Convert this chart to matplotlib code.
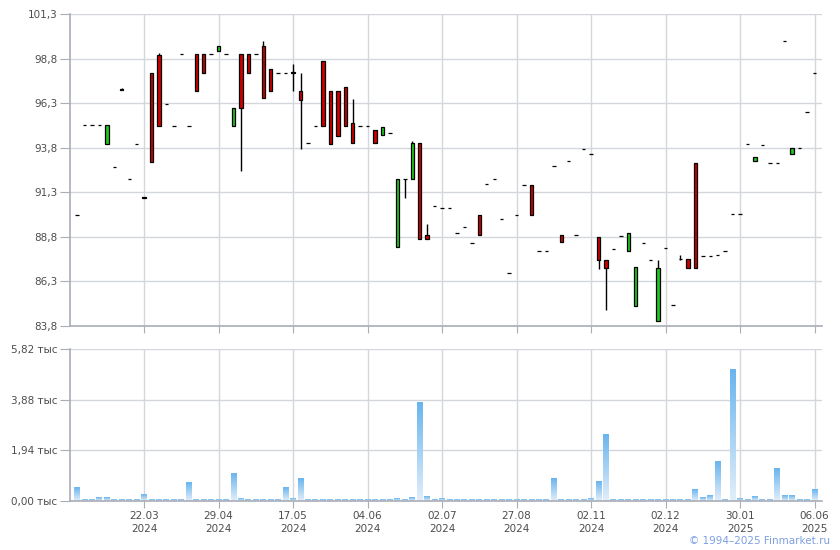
import matplotlib

matplotlib.use("Agg")

import matplotlib.pyplot as plt
import numpy as np
from matplotlib.colors import LinearSegmentedColormap
from matplotlib.patches import Rectangle

# свечи по порядку торговых дней (100 штук)
opens = [
    90.0, 95.1, 95.1, 95.1, 94.0, 92.7, 97.1, 92.05, 94.0, 91.05,
    98.0, 99.0, 96.25, 95.0, 99.05, 95.0, 99.05, 99.05, 99.05, 99.2,
    99.05, 95.0, 99.05, 99.05, 99.05, 99.5, 98.2, 98.0, 98.0, 98.05,
    97.0, 94.05, 95.0, 98.65, 97.0, 97.0, 97.2, 95.2, 95.0, 95.0,
    94.8, 94.5, 94.6, 88.25, 92.05, 92.05, 94.05, 88.9, 90.55, 90.4,
    90.4, 89.0, 89.35, 88.45, 90.0, 91.75, 92.05, 89.8, 86.8, 90.0,
    91.7, 91.7, 88.0, 88.0, 92.8, 88.9, 93.05, 88.9, 93.75, 93.45,
    88.8, 87.5, 88.1, 88.85, 88.0, 84.9, 88.45, 87.5, 84.1, 88.2,
    85.0, 87.55, 87.55, 92.95, 87.7, 87.7, 87.8, 88.0, 90.1, 90.1,
    94.0, 93.05, 93.95, 92.95, 92.95, 99.8, 93.45, 93.8, 95.8, 98.0,
]
closes = [
    90.0, 95.1, 95.1, 95.1, 95.1, 92.7, 97.05, 92.05, 94.0, 91.0,
    93.0, 95.0, 96.25, 95.0, 99.05, 95.0, 97.0, 98.0, 99.05, 99.5,
    99.05, 96.0, 96.0, 98.0, 99.05, 96.6, 97.0, 98.0, 98.0, 98.0,
    96.45, 94.05, 95.0, 95.0, 94.0, 94.45, 95.0, 94.05, 95.0, 95.0,
    94.05, 94.95, 94.6, 92.05, 92.05, 94.05, 88.7, 88.7, 90.55, 90.4,
    90.4, 89.0, 89.35, 88.45, 88.9, 91.75, 92.05, 89.8, 86.8, 90.0,
    91.7, 90.05, 88.0, 88.0, 92.8, 88.5, 93.05, 88.9, 93.75, 93.45,
    87.5, 87.05, 88.1, 88.85, 89.0, 87.1, 88.45, 87.5, 87.05, 88.2,
    85.0, 87.55, 87.05, 87.05, 87.7, 87.7, 87.8, 88.0, 90.1, 90.1,
    94.0, 93.3, 93.95, 92.95, 92.95, 99.8, 93.8, 93.8, 95.8, 98.0,
]
highs = [
    90.0, 95.1, 95.1, 95.1, 95.1, 92.7, 97.15, 92.05, 94.0, 91.05,
    98.0, 99.1, 96.25, 95.0, 99.05, 95.0, 99.05, 99.05, 99.05, 99.5,
    99.05, 96.0, 99.05, 99.05, 99.05, 99.8, 98.2, 98.0, 98.0, 98.5,
    98.0, 94.05, 95.0, 98.65, 97.0, 97.0, 97.2, 96.55, 95.0, 95.0,
    94.8, 94.95, 94.6, 92.05, 92.05, 94.2, 94.05, 89.5, 90.55, 90.4,
    90.4, 89.0, 89.35, 88.45, 90.0, 91.75, 92.05, 89.8, 86.8, 90.0,
    91.7, 91.7, 88.0, 88.0, 92.8, 88.9, 93.05, 88.9, 93.75, 93.45,
    88.8, 87.5, 88.1, 88.85, 89.0, 87.1, 88.45, 87.5, 87.5, 88.2,
    85.0, 87.8, 87.55, 92.95, 87.7, 87.7, 87.8, 88.0, 90.1, 90.1,
    94.0, 93.3, 93.95, 92.95, 92.95, 99.8, 93.8, 93.8, 95.8, 98.0,
]
lows = [
    90.0, 95.1, 95.1, 95.1, 94.0, 92.7, 97.05, 92.05, 94.0, 91.0,
    93.0, 95.0, 96.25, 95.0, 99.05, 95.0, 97.0, 98.0, 99.05, 99.2,
    99.05, 95.0, 92.5, 98.0, 99.05, 96.6, 97.0, 98.0, 98.0, 97.0,
    93.7, 94.05, 95.0, 95.0, 94.0, 94.45, 95.0, 94.05, 95.0, 95.0,
    94.05, 94.5, 94.6, 88.25, 91.0, 92.05, 88.7, 88.7, 90.55, 90.4,
    90.4, 89.0, 89.35, 88.45, 88.9, 91.75, 92.05, 89.8, 86.8, 90.0,
    91.7, 90.05, 88.0, 88.0, 92.8, 88.5, 93.05, 88.9, 93.75, 93.45,
    87.0, 84.7, 88.1, 88.85, 88.0, 84.9, 88.45, 87.5, 84.1, 88.2,
    85.0, 87.5, 87.05, 87.05, 87.7, 87.7, 87.8, 88.0, 90.1, 90.1,
    94.0, 93.05, 93.95, 92.95, 92.95, 99.8, 93.45, 93.8, 95.8, 98.0,
]
volumes = [
    505, 40, 40, 115, 115, 40, 40, 40, 40, 230,
    40, 40, 40, 40, 40, 690, 40, 40, 40, 40,
    40, 1036, 77, 40, 40, 40, 40, 40, 500, 77,
    844, 40, 40, 40, 40, 40, 40, 40, 40, 40,
    40, 40, 40, 77, 40, 115, 3770, 155, 40, 77,
    40, 40, 40, 40, 40, 40, 40, 40, 40, 40,
    40, 40, 40, 40, 880, 40, 40, 40, 40, 77,
    730, 2532, 40, 40, 40, 40, 40, 40, 40, 40,
    40, 40, 40, 422, 115, 205, 1496, 40, 5025, 77,
    40, 167, 40, 40, 1227, 205, 205, 40, 40, 422,
]
tick_labels = [
    "22.03\n2024", "29.04\n2024", "17.05\n2024", "04.06\n2024", "02.07\n2024",
    "27.08\n2024", "02.11\n2024", "02.12\n2024", "30.01\n2025", "06.06\n2025",
]
price_ticks = [83.8, 86.3, 88.8, 91.3, 93.8, 96.3, 98.8, 101.3]
vol_ticks = [0, 1940, 3880, 5820]

GRID = "#d3d7dc"
AXIS = "#a9adb6"
TEXT = "#4d4d4d"
UP = "#1ec81e"
DOWN = "#d00000"

n = len(opens)
x = np.arange(n)
tick_pos = x[9::10]

fig = plt.figure(figsize=(8.4, 5.5), dpi=100)
ax = fig.add_axes([70 / 840, 224 / 550, 752 / 840, 312 / 550])
axv = fig.add_axes([70 / 840, 49 / 550, 752 / 840, 152 / 550])


def style_axes(a):
    for side in ("top", "right"):
        a.spines[side].set_visible(False)
    for side in ("left", "bottom"):
        a.spines[side].set_color(AXIS)
        a.spines[side].set_linewidth(1.2)
    a.grid(True, color=GRID, linewidth=1.0)
    a.set_axisbelow(True)
    a.tick_params(axis="y", direction="out", length=7, color=AXIS,
                  labelsize=7.5, labelcolor=TEXT, pad=2)
    a.tick_params(axis="x", direction="out", length=5, color=AXIS,
                  labelsize=7.5, labelcolor=TEXT, pad=2)
    a.set_xlim(-0.95, 100.0)
    a.set_xticks(tick_pos)


# --- цены ---
style_axes(ax)
body_w = 0.46
for i in x:
    o, c, h, l = opens[i], closes[i], highs[i], lows[i]
    if h > max(o, c) or l < min(o, c):
        ax.vlines(i, l, h, color="black", linewidth=1.0, zorder=2)
    color = UP if c > o else DOWN
    ax.add_patch(Rectangle((i - body_w / 2, min(o, c)), body_w, abs(c - o),
                           facecolor=color, edgecolor="black",
                           linewidth=0.9, zorder=3))
ax.set_ylim(83.8, 101.3)
ax.set_yticks(price_ticks)
ax.set_yticklabels([f"{v:.1f}".replace(".", ",") for v in price_ticks])
ax.set_xticklabels([])

# --- объём ---
style_axes(axv)
cmap = LinearSegmentedColormap.from_list("vol", ["#e2eefa", "#6ab5ee"])
grad = np.linspace(0, 1, 64).reshape(-1, 1)
bar_w = 0.8
for i in x:
    axv.imshow(grad, extent=(i - bar_w / 2, i + bar_w / 2, 0, volumes[i]),
               origin="lower", aspect="auto", cmap=cmap, zorder=2)
axv.set_xlim(-0.95, 100.0)
axv.set_ylim(0, 5820)
axv.set_yticks(vol_ticks)
axv.set_yticklabels([f"{v / 1000:.2f}".replace(".", ",") + " тыс" for v in vol_ticks])
axv.set_xticklabels(tick_labels, linespacing=1.35)

fig.text(830 / 840, 1 - 541 / 550, "© 1994–2025 Finmarket.ru", ha="right",
         va="center", color="#7d9ee0", fontsize=7.5)

fig.savefig("out.png", dpi=100)
